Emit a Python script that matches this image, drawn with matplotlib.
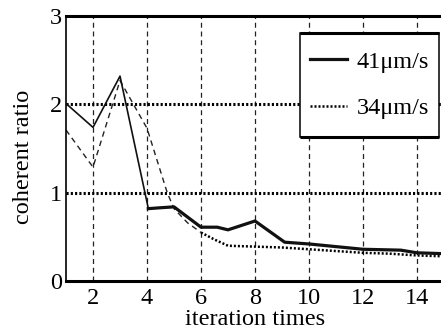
import matplotlib
matplotlib.use("Agg")
import matplotlib.pyplot as plt
from matplotlib.patches import Rectangle

plt.rcParams['font.family'] = ['Liberation Serif', 'DejaVu Serif']

# 41um/s series (thin upper part, thick tail)
x41_a = [1, 2, 3, 4.05]
y41_a = [2.01, 1.74, 2.32, 0.82]
x41_b = [4.05, 4.5, 5, 6, 6.6, 7, 7.5, 8, 9.1, 10, 11, 12, 13.4, 14, 15]
y41_b = [0.82, 0.83, 0.84, 0.61, 0.61, 0.58, 0.63, 0.68, 0.44, 0.42, 0.39, 0.36, 0.35, 0.32, 0.31]

# 34um/s series (dashed upper part, dotted tail)
x34_a = [1, 2, 3, 4, 4.75, 5, 5.5, 6]
y34_a = [1.71, 1.29, 2.27, 1.73, 1.0, 0.82, 0.66, 0.55]
x34_b = [6, 6.5, 7, 8, 9, 10, 11, 12, 13, 14, 15]
y34_b = [0.55, 0.47, 0.40, 0.39, 0.38, 0.36, 0.34, 0.32, 0.31, 0.29, 0.28]

xticks = [2, 4, 6, 8, 10, 12, 14]
yticks = [0, 1, 2, 3]

fig = plt.figure(figsize=(4.41, 3.35), dpi=100)
ax = fig.add_axes([0.1497, 0.161, 0.857, 0.791])

for xt in xticks:
    ax.axvline(xt, color='#222222', lw=0.9, dashes=(4, 3), zorder=1)
for yt in [1, 2]:
    ax.axhline(yt, color='black', lw=2.2, dashes=(0.7, 0.7), zorder=1)

ax.plot(x41_a, y41_a, color='#111111', lw=1.2, zorder=3)
ax.plot(x41_b, y41_b, color='#111111', lw=2.3, label='41\u03bcm/s', zorder=3)
ax.plot(x34_a, y34_a, color='#222222', lw=1.0, dashes=(4, 3), zorder=2)
ax.plot(x34_b, y34_b, color='black', lw=1.8, dashes=(0.8, 0.8), label='34\u03bcm/s', zorder=2)

ax.set_xlim(1, 15)
ax.set_ylim(0, 3)
ax.set_xticks(xticks)
ax.set_yticks(yticks)
ax.tick_params(length=0, labelsize=17.5, pad=3)
ax.tick_params(axis='x', pad=5)

ax.spines['right'].set_visible(False)
ax.spines['top'].set_linewidth(2.2)
ax.spines['bottom'].set_linewidth(2.2)
ax.spines['left'].set_linewidth(1.2)

ax.set_xlabel('iteration times', fontsize=17.5, labelpad=0)
ax.set_ylabel('coherent ratio', fontsize=17.5)
ax.yaxis.set_label_coords(-0.085, 0.468)

# legend box drawn by hand: thin sides, heavier top and bottom
bx0, bx1, by0, by1 = 0.619, 0.987, 0.543, 0.936
ax.add_patch(Rectangle((bx0, by0), bx1 - bx0, by1 - by0, transform=ax.transAxes,
                       facecolor='white', edgecolor='black', lw=1.1, zorder=4, clip_on=False))
ax.plot([bx0, bx1], [by1, by1], transform=ax.transAxes, color='black', lw=2.2,
        zorder=5, clip_on=False, solid_capstyle='butt')
ax.plot([bx0, bx1], [by0, by0], transform=ax.transAxes, color='black', lw=2.2,
        zorder=5, clip_on=False, solid_capstyle='butt')

leg = ax.legend(loc='center', bbox_to_anchor=((bx0 + bx1) / 2, (by0 + by1) / 2),
                fontsize=17.5, frameon=False, handlelength=1.5, handletextpad=0.4,
                borderpad=0, labelspacing=1.0, borderaxespad=0)
leg.set_zorder(6)

fig.savefig('out.png', dpi=100)
